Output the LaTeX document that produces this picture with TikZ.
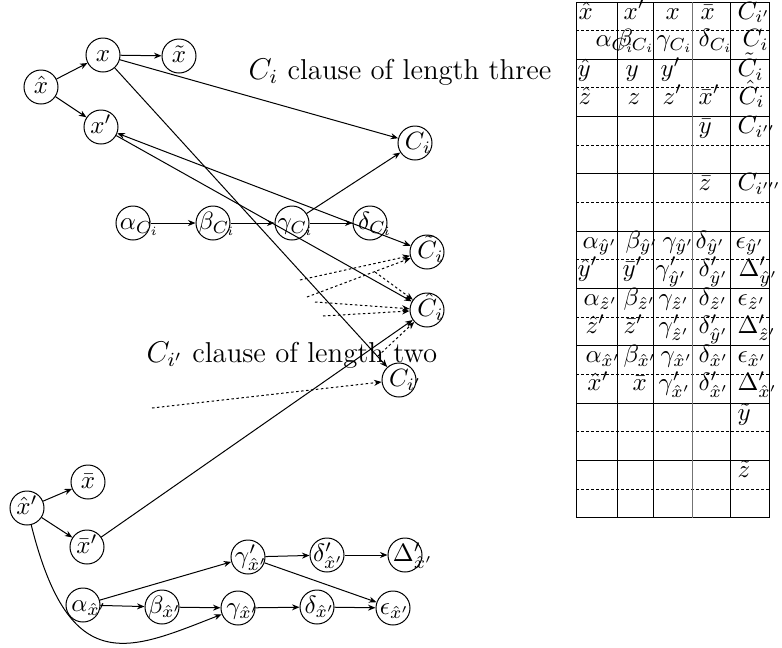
\documentclass[tikz,border=0pt]{standalone}
\usetikzlibrary{arrows.meta}

\tikzset{
  vtx/.style={circle,draw,minimum size=13.6pt,inner sep=0pt,text height=1.5ex,text depth=.25ex},
  dots/.style={->,dash pattern=on 1pt off 1pt},
  cell/.style={anchor=base west,inner sep=0pt},
  title/.style={font=\fontsize{11.5}{14}\selectfont},
}
% label that starts left of the circle centre and may run out of it
\newcommand{\vt}[2][-5pt]{\makebox[0pt][l]{\hspace{#1}$#2$}}

\begin{document}
\begin{tikzpicture}[x=0.4pt,y=-0.4pt,>={Stealth[length=3pt,width=2.4pt]}]
\useasboundingbox (0,0) rectangle (782,648);

% clause of length three
\node[vtx] (xh) at (41,87) {$\hat{x}$};
\node[vtx] (x) at (103,55) {$x$};
\node[vtx] (xt) at (179,56) {$\tilde{x}$};
\node[vtx] (xp) at (101,127) {$x'$};
\node[vtx] (Ci) at (415,143) {\vt[-4pt]{C_i}};
\node[title] (lab3) at (400,72) {$C_i$ clause of length three};

\node[vtx] (aC) at (133,223) {\vt[-5.2pt]{\alpha_{C_i}}};
\node[vtx] (bC) at (213,223) {\vt[-5.8pt]{\beta_{C_i}}};
\node[vtx] (gC) at (292,223) {\vt[-5.8pt]{\gamma_{C_i}}};
\node[vtx] (dC) at (370,223) {\vt[-4.8pt]{\delta_{C_i}}};

\node[vtx] (Ct) at (427,252) {\vt[-3.8pt]{\tilde{C}_i}};
\node[vtx] (Ch) at (427,310) {\vt[-3.8pt]{\hat{C}_i}};
\node[vtx] (Cip) at (399,380) {\vt[-4pt]{C_{i'}}};
\node[title] (lab2) at (292,355) {$C_{i'}$ clause of length two};

\draw[->] (xh) -- (x);
\draw[->] (xh) -- (xp);
\draw[->] (x) -- (xt);
\draw[->] (x) -- (Ci);
\draw[->] (x) -- (Cip);
\draw[<->] (xp) -- (Ct);
\draw[->] (xp) -- (Ch);
\draw[->] (aC) -- (bC);
\draw[->] (bC) -- (gC);
\draw[->] (gC) -- (dC);
\draw[->] (gC) -- (Ci);

\coordinate (d1) at (300,280);
\coordinate (d2) at (307,297);
\coordinate (d3) at (315,302);
\coordinate (d4) at (323,316);
\coordinate (d5) at (375,272);
\coordinate (d6) at (378,356);
\coordinate (d7) at (152,408);
\draw[dots] (d1) -- (Ct);
\draw[dots] (d2) -- (Ct);
\draw[dots] (d3) -- (Ch);
\draw[dots] (d4) -- (Ch);
\draw[dots] (d5) -- (Ch);
\draw[dots] (d6) -- (Ch);
\draw[dots] (d7) -- (Cip);

% variable gadget
\node[vtx] (xhp) at (27,508) {$\hat{x}'$};
\node[vtx] (xb) at (88,482) {$\bar{x}$};
\node[vtx] (xbp) at (87,547) {$\bar{x}'$};
\node[vtx] (gpx) at (248,557) {\vt[-5.2pt]{\gamma'_{\hat{x}'}}};
\node[vtx] (dpx) at (327,555) {\vt[-5.6pt]{\delta'_{\hat{x}'}}};
\node[vtx] (Dpx) at (405,555) {\vt[-4.8pt]{\Delta'_{\hat{x}'}}};
\node[vtx] (ax) at (83,605) {\vt[-4.6pt]{\alpha_{\hat{x}'}}};
\node[vtx] (bx) at (162,607) {\vt[-5.6pt]{\beta_{\hat{x}'}}};
\node[vtx] (gx) at (238,608) {\vt[-4.6pt]{\gamma_{\hat{x}'}}};
\node[vtx] (dx) at (317,607) {\vt[-5pt]{\delta_{\hat{x}'}}};
\node[vtx] (ex) at (393,608) {\vt[-5.2pt]{\epsilon_{\hat{x}'}}};

\draw[->] (xhp) -- (xb);
\draw[->] (xhp) -- (xbp);
\draw[->] (xbp) -- (Ch);
\draw[->] (xhp) .. controls (70,680) and (130,650) .. (gx);
\draw[->] (ax) -- (bx);
\draw[->] (bx) -- (gx);
\draw[->] (gx) -- (dx);
\draw[->] (dx) -- (ex);
\draw[->] (ax) -- (gpx);
\draw[->] (gpx) -- (dpx);
\draw[->] (dpx) -- (Dpx);
\draw[->] (gpx) -- (ex);

% table
\foreach \k in {0,...,9}{ \draw (576,2+57.3*\k) -- (769,2+57.3*\k);}
\foreach \k in {0,...,8}{ \draw[dash pattern=on 1pt off 1pt] (576,30.65+57.3*\k) -- (769,30.65+57.3*\k);}
\foreach \c in {576,617,653,730,769}{ \draw (\c,2) -- (\c,517.7);}
\draw[black!55] (692,2) -- (692,517.7);

\foreach \a/\b in {578/\hat{x},623/x',665/x,700/\bar{x},737/C_{i'}}{ \node[cell] (u0-\a) at (\a,19){$\b$};}
\foreach \a/\b in {595/\alpha_{C_i},617/\beta_{C_i},656/\gamma_{C_i},698/\delta_{C_i},742/C_i}{ \node[cell] (l0-\a) at (\a,46.6){$\b$};}
\foreach \a/\b in {577/\hat{y},625/y,660/y',737/\tilde{C}_i}{ \node[cell] (u1-\a) at (\a,76.3){$\b$};}
\foreach \a/\b in {578/\hat{z},627/z,662/z',698/\bar{x}',738/\hat{C}_i}{ \node[cell] (l1-\a) at (\a,104){$\b$};}
\foreach \a/\b in {698/\bar{y},737/C_{i''}}{ \node[cell] (u2-\a) at (\a,133.6){$\b$};}
\foreach \a/\b in {698/\bar{z},737/C_{i'''}}{ \node[cell] (u3-\a) at (\a,190.9){$\b$};}
\foreach \a/\b in {582/\alpha_{\hat{y}'},625/\beta_{\hat{y}'},662/\gamma_{\hat{y}'},695/\delta_{\hat{y}'},735/\epsilon_{\hat{y}'}}{ \node[cell] (u4-\a) at (\a,248.2){$\b$};}
\foreach \a/\b in {577/\hat{y}',622/\bar{y}',655/\gamma'_{\hat{y}'},698/\delta'_{\hat{y}'},738/\Delta'_{\hat{y}'}}{ \node[cell] (l4-\a) at (\a,276){$\b$};}
\foreach \a/\b in {583/\alpha_{\hat{z}'},623/\beta_{\hat{z}'},658/\gamma_{\hat{z}'},698/\delta_{\hat{z}'},737/\epsilon_{\hat{z}'}}{ \node[cell] (u5-\a) at (\a,305.5){$\b$};}
\foreach \a/\b in {585/\hat{z}',623/\bar{z}',658/\gamma'_{\hat{z}'},698/\delta'_{\hat{y}'},737/\Delta'_{\hat{z}'}}{ \node[cell] (l5-\a) at (\a,333.2){$\b$};}
\foreach \a/\b in {585/\alpha_{\hat{x}'},623/\beta_{\hat{x}'},660/\gamma_{\hat{x}'},698/\delta_{\hat{x}'},737/\epsilon_{\hat{x}'}}{ \node[cell] (u6-\a) at (\a,362.8){$\b$};}
\foreach \a/\b in {587/\hat{x}',632/\bar{x},658/\gamma'_{\hat{x}'},698/\delta'_{\hat{x}'},737/\Delta'_{\hat{x}'}}{ \node[cell] (l6-\a) at (\a,390.5){$\b$};}
\node[cell] (u7-737) at (737,420.1){$\tilde{y}$};
\node[cell] (u8-737) at (737,477.4){$\tilde{z}$};

\end{tikzpicture}
\end{document}
